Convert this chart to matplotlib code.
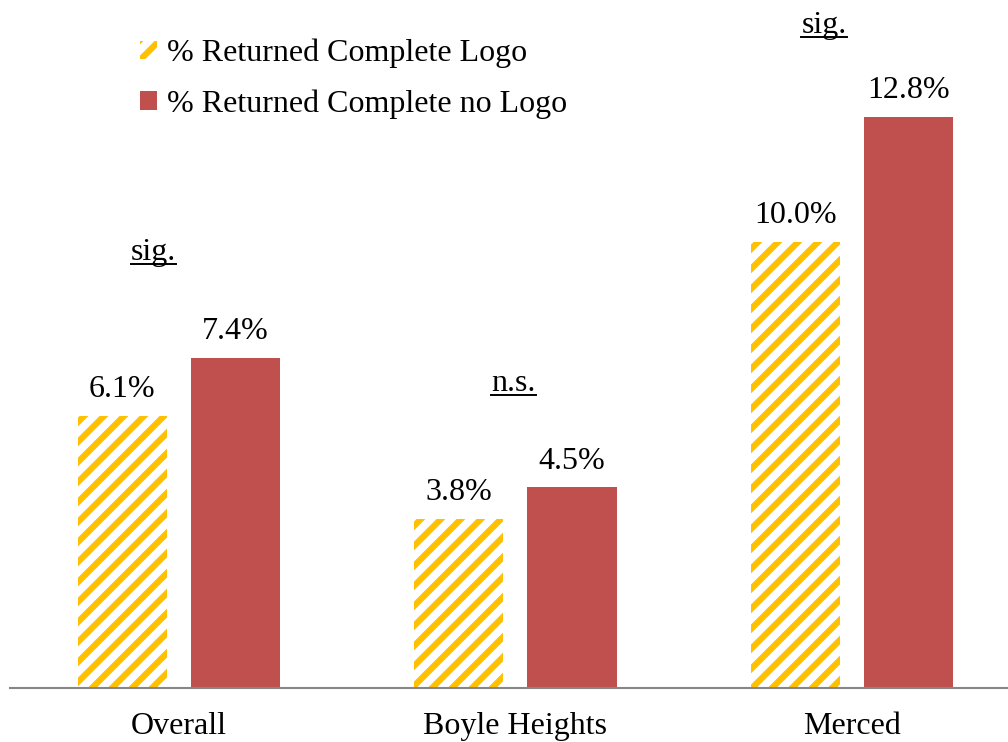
import numpy as np
import matplotlib
matplotlib.use('Agg')
import matplotlib.pyplot as plt
import matplotlib.hatch as mhatch
from matplotlib.lines import Line2D

plt.rcParams['font.family'] = ['Liberation Serif', 'DejaVu Serif']
plt.rcParams['hatch.linewidth'] = 4.5


# denser diagonal stripes than the default '/' hatch
class DenseNorthEast(mhatch.NorthEastHatch):
    def __init__(self, hatch, density):
        super().__init__(hatch, density)
        self.num_lines = hatch.count('/') * 10
        self.num_vertices = (self.num_lines + 1) * 2 if self.num_lines else 0


mhatch._hatch_types = [DenseNorthEast if h is mhatch.NorthEastHatch else h
                       for h in mhatch._hatch_types]

categories = ['Overall', 'Boyle Heights', 'Merced']
logo = [6.1, 3.8, 10.0]
no_logo = [7.4, 4.5, 12.8]
sig_labels = ['sig.', 'n.s.', 'sig.']
sig_y = [9.60, 6.66, 14.69]
sig_dx = [-0.076, -0.006, -0.083]

yellow = '#FFC000'
red = '#C0504D'

fig = plt.figure(figsize=(10.08, 7.42), dpi=100)
ax = fig.add_axes([10 / 1008, 54 / 742, 998 / 1008, 669 / 742])

x = np.arange(len(categories))
w = 0.265
off = 0.168

ax.bar(x - off, logo, w, color='white', edgecolor=yellow, hatch='/', linewidth=0,
       label='% Returned Complete Logo')
ax.bar(x + off, no_logo, w, color=red, linewidth=0,
       label='% Returned Complete no Logo')

for xi, v in zip(x - off, logo):
    ax.text(xi, v + 0.42, f'{v:.1f}%', ha='center', va='baseline', fontsize=23)
for xi, v in zip(x + off, no_logo):
    ax.text(xi, v + 0.42, f'{v:.1f}%', ha='center', va='baseline', fontsize=23)

sig_texts = []
for xi, yv, dx, s in zip(x, sig_y, sig_dx, sig_labels):
    t = ax.text(xi + dx, yv, s, ha='center', va='baseline', fontsize=23)
    sig_texts.append((t, xi + dx, yv))

ax.set_xlim(-0.502, 2.464)
ax.set_ylim(0, 15)
ax.set_xticks(x)
ax.set_xticklabels(categories, fontsize=23)
ax.tick_params(axis='x', length=0, pad=17)
ax.set_yticks([])
for s in ['top', 'right', 'left']:
    ax.spines[s].set_visible(False)
ax.spines['bottom'].set_color('#868686')
ax.spines['bottom'].set_linewidth(1.5)

fig.legend(loc='upper left', bbox_to_anchor=(111 / 1008, 1 - 10 / 742), frameon=False,
           fontsize=23, handlelength=0.53, handleheight=0.53, handletextpad=0.31,
           labelspacing=0.66)

# underline the significance labels
fig.canvas.draw()
r = fig.canvas.get_renderer()
for t, xt, yt in sig_texts:
    bb = t.get_window_extent(r)
    base = ax.transData.transform((xt, yt))[1]
    yy = (base - 4) / 742
    fig.add_artist(Line2D([bb.x0 / 1008, bb.x1 / 1008], [yy, yy],
                          color='black', linewidth=1.4))

fig.savefig('out.png', dpi=100)
